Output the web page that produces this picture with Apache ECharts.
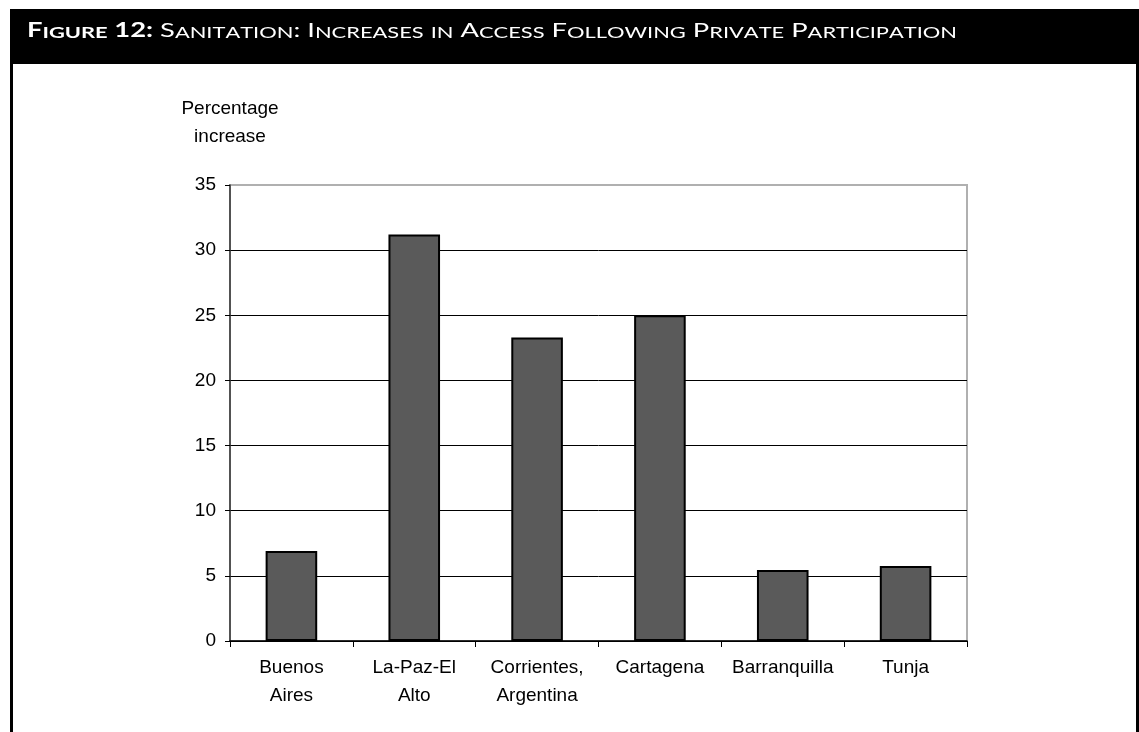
<!DOCTYPE html>
<html>
<head>
<meta charset="utf-8">
<script src="https://cdn.jsdelivr.net/npm/echarts@6/dist/echarts.min.js"></script>
<style>
html,body{margin:0;padding:0;background:#fff;}
#chart{width:1139px;height:732px;}
</style>
</head>
<body>
<div id="chart"></div>
<script>
const categories = ['Buenos\nAires', 'La-Paz-El\nAlto', 'Corrientes,\nArgentina', 'Cartagena', 'Barranquilla', 'Tunja'];
const values = [6.9, 31.2, 23.3, 25.0, 5.45, 5.75];
const yTicks = [0, 5, 10, 15, 20, 25, 30, 35];
const titleBold = 'Figure 12:';
const titleRest = ' Sanitation: Increases in Access Following Private Participation';
const yAxisTitle = 'Percentage\nincrease';

const titleFont = 'Lato, "Open Sans", "DejaVu Sans", sans-serif';
const BIG = 20, SMALL = 16;
const styles = {
  bb: {weight: 'bold', size: BIG},
  bs: {weight: 'bold', size: SMALL},
  nb: {weight: 'normal', size: BIG},
  ns: {weight: 'normal', size: SMALL}
};
const measureCtx = document.createElement('canvas').getContext('2d');
let titleWidth = 0;
function smallCaps(str, bigStyle, smallStyle) {
  let out = '';
  for (const ch of str) {
    const isLower = ch >= 'a' && ch <= 'z';
    const st = isLower ? smallStyle : bigStyle;
    const c = isLower ? ch.toUpperCase() : ch;
    measureCtx.font = styles[st].weight + ' ' + styles[st].size + 'px ' + titleFont;
    titleWidth += measureCtx.measureText(c).width;
    out += '{' + st + '|' + c + '}';
  }
  return out;
}
const titleText = smallCaps(titleBold, 'bb', 'bs') + smallCaps(titleRest, 'nb', 'ns');
const titleScale = 930 / titleWidth;

const chart = echarts.init(document.getElementById('chart'), null, {renderer: 'canvas'});
const sans = '"Liberation Sans", Arial, sans-serif';
chart.setOption({
  animation: false,
  backgroundColor: '#fff',
  grid: {left: 230, right: 172, top: 185, bottom: 91, show: true, borderColor: '#b0b0b0', borderWidth: 2},
  graphic: [
    {type: 'rect', shape: {x: 10, y: 9, width: 1129, height: 55}, style: {fill: '#000'}},
    {type: 'rect', shape: {x: 10, y: 64, width: 3, height: 668}, style: {fill: '#000'}},
    {type: 'rect', shape: {x: 1136, y: 64, width: 3, height: 668}, style: {fill: '#000'}},
    {type: 'text', x: 27, y: 31, scaleX: titleScale, style: {
      text: titleText,
      fill: '#fff',
      verticalAlign: 'middle',
      align: 'left',
      rich: {
        bb: {fontFamily: titleFont, fontWeight: 'bold', fontSize: BIG, fill: '#fff', verticalAlign: 'bottom'},
        bs: {fontFamily: titleFont, fontWeight: 'bold', fontSize: SMALL, fill: '#fff', verticalAlign: 'bottom'},
        nb: {fontFamily: titleFont, fontSize: BIG, fill: '#fff', verticalAlign: 'bottom'},
        ns: {fontFamily: titleFont, fontSize: SMALL, fill: '#fff', verticalAlign: 'bottom'}
      }
    }},
    {type: 'text', x: 230, y: 123, style: {text: yAxisTitle, fontFamily: sans, fontSize: 19, fill: '#000', align: 'center', verticalAlign: 'middle', lineHeight: 28}}
  ],
  xAxis: {
    type: 'category',
    data: categories,
    boundaryGap: true,
    axisLine: {lineStyle: {color: '#000', width: 1.5}},
    axisTick: {show: true, length: 6, lineStyle: {color: '#000'}},
    axisLabel: {fontFamily: sans, fontSize: 19, color: '#000', lineHeight: 28, margin: 13, interval: 0}
  },
  yAxis: {
    type: 'value',
    min: 0, max: 35, interval: 5,
    axisLine: {show: true, lineStyle: {color: '#333', width: 1.5}},
    axisTick: {show: true, length: 5, lineStyle: {color: '#000'}},
    axisLabel: {fontFamily: sans, fontSize: 19, color: '#000', margin: 14},
    splitLine: {show: true, lineStyle: {color: ['#000', '#000', '#000', '#000', '#000', '#000', '#000', '#b0b0b0'], width: 1}}
  },
  series: [{
    type: 'bar',
    data: values,
    barWidth: '42%',
    itemStyle: {color: '#5a5a5a', borderColor: '#000', borderWidth: 2}
  }]
});
</script>
</body>
</html>
